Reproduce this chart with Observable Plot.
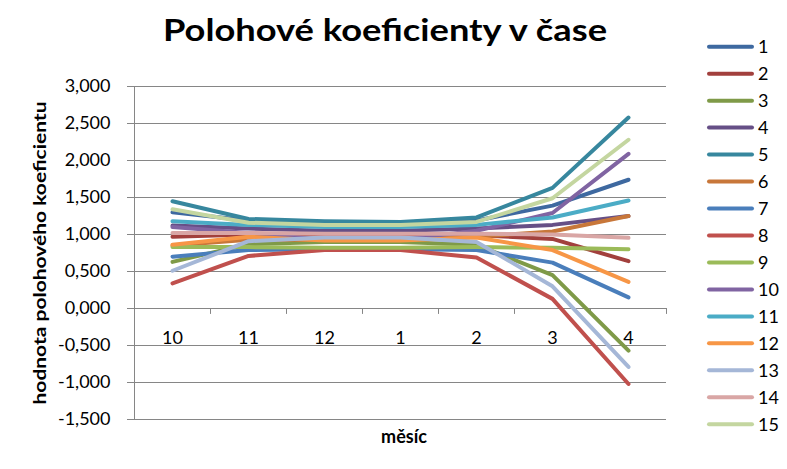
<!DOCTYPE html>
<html><head><meta charset="utf-8">
<script src="https://cdn.jsdelivr.net/npm/d3@7"></script>
<script src="https://cdn.jsdelivr.net/npm/@observablehq/plot@0.6"></script>
<style>
body{margin:0;background:#fff}
#wrap{position:relative;width:787px;height:469px;font-family:Lato,"Open Sans",sans-serif}
#wrap svg{position:absolute;left:0;top:0}
</style>
</head><body><div id="wrap"></div>
<script>
const months = ["10","11","12","1","2","3","4"];
const seriesNames = ["1","2","3","4","5","6","7","8","9","10","11","12","13","14","15"];
const s1  = [1.30, 1.19, 1.16, 1.15, 1.19, 1.39, 1.74];
const s2  = [0.97, 1.00, 1.00, 1.00, 0.99, 0.94, 0.64];
const s3  = [0.63, 0.87, 0.90, 0.90, 0.86, 0.45, -0.57];
const s4  = [1.12, 1.08, 1.05, 1.05, 1.08, 1.13, 1.25];
const s5  = [1.45, 1.21, 1.18, 1.17, 1.23, 1.63, 2.58];
const s6  = [0.85, 0.93, 0.93, 0.93, 0.97, 1.04, 1.25];
const s7  = [0.70, 0.79, 0.80, 0.80, 0.79, 0.62, 0.15];
const s8  = [0.34, 0.71, 0.79, 0.79, 0.69, 0.13, -1.02];
const s9  = [0.83, 0.83, 0.82, 0.82, 0.83, 0.82, 0.80];
const s10 = [1.10, 1.02, 0.93, 0.93, 1.05, 1.29, 2.09];
const s11 = [1.18, 1.13, 1.10, 1.10, 1.13, 1.23, 1.46];
const s12 = [0.86, 0.97, 0.92, 0.92, 0.96, 0.79, 0.36];
const s13 = [0.51, 0.91, 0.96, 0.96, 0.90, 0.30, -0.79];
const s14 = [1.02, 1.02, 1.01, 1.01, 1.01, 1.00, 0.955];
const s15 = [1.34, 1.16, 1.13, 1.13, 1.17, 1.49, 2.28];
const seriesValues = [s1,s2,s3,s4,s5,s6,s7,s8,s9,s10,s11,s12,s13,s14,s15];
const colors = ["#3E69A0","#A2403D","#7F9A48","#664F86","#37879E","#C8773A","#4A7EBB",
                "#C0504D","#9BBB59","#8064A2","#4BACC6","#F79646","#A5B7D7","#D9A6A5","#C4D6A0"];
const yTicks = [3, 2.5, 2, 1.5, 1, 0.5, 0, -0.5, -1, -1.5];
const titleText = "Polohové koeficienty v čase";
const yTitle = "hodnota polohového koeficientu";
const xTitle = "měsíc";

const data = [];
seriesNames.forEach((name, i) => months.forEach((m, j) => data.push({series: name, month: m, value: seriesValues[i][j]})));

const fmt = v => d3.format(".3f")(v).replace(".", ",").replace("\u2212", "-");
const grid = "#868686";

const chart = Plot.plot({
  width: 787, height: 469,
  marginLeft: 134, marginRight: 121, marginTop: 86, marginBottom: 50,
  style: {fontFamily: "Lato, 'Open Sans', sans-serif", background: "transparent"},
  x: {type: "point", domain: months, padding: 0.5, axis: null},
  y: {domain: [-1.5, 3], axis: null},
  color: {domain: seriesNames, range: colors},
  marks: [
    Plot.gridY(yTicks, {stroke: grid, strokeOpacity: 1}),
    Plot.axisY(yTicks, {tickFormat: fmt, tickSize: 7, tickPadding: 17, stroke: grid, fill: "#000", fontSize: 18, label: null}),
    Plot.frame({anchor: "left", stroke: grid}),
    Plot.ruleY([0], {stroke: grid}),
    Plot.ruleX(months, {x: d => d, y1: 0, y2: -0.08, dx: -38, stroke: grid}),
    Plot.ruleX(months.slice(-1), {x: d => d, y1: 0, y2: -0.08, dx: 38, stroke: grid}),
    Plot.line(data, {x: "month", y: "value", z: "series", stroke: "series", strokeWidth: 4, strokeLinejoin: "round", strokeLinecap: "round"}),
    Plot.text(months, {x: d => d, y: 0, dy: 30, fontSize: 18, fill: "#000"})
  ]
});
const wrap = document.getElementById("wrap");
wrap.appendChild(chart);

const ov = d3.select(wrap).append("svg").attr("width", 787).attr("height", 469)
  .style("font-family", "Lato, 'Open Sans', sans-serif");
ov.append("text").attr("x", 163).attr("y", 41).attr("font-size", 30).attr("font-weight", "bold")
  .attr("textLength", 444).attr("lengthAdjust", "spacingAndGlyphs").text(titleText);
ov.append("text").attr("transform", "translate(46,253) rotate(-90)").attr("text-anchor", "middle")
  .attr("font-size", 17).attr("font-weight", "bold").attr("textLength", 303).attr("lengthAdjust", "spacingAndGlyphs").text(yTitle);
ov.append("text").attr("x", 404).attr("y", 443).attr("text-anchor", "middle")
  .attr("font-size", 18).attr("font-weight", "bold").text(xTitle);
const lg = ov.append("g");
seriesNames.forEach((name, i) => {
  const y = 46.7 + i * 26.97;
  lg.append("line").attr("x1", 709).attr("x2", 752).attr("y1", y).attr("y2", y)
    .attr("stroke", colors[i]).attr("stroke-width", 4).attr("stroke-linecap", "round");
  lg.append("text").attr("x", 758).attr("y", y).attr("dy", "0.36em").attr("font-size", 18).text(name);
});
</script>
</body></html>
